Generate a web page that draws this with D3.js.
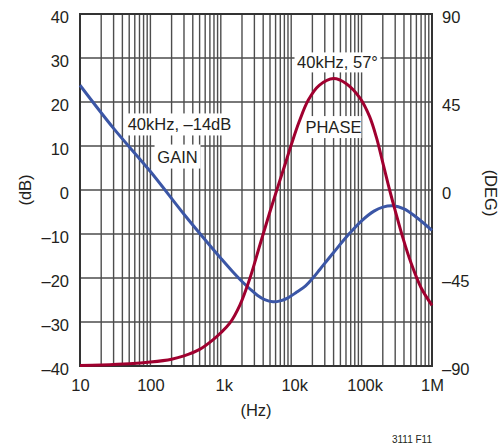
<!DOCTYPE html>
<html><head><meta charset="utf-8">
<script src="https://cdn.jsdelivr.net/npm/d3@7/dist/d3.min.js"></script>
<style>
html,body{margin:0;padding:0;background:#fff;}
svg text{font-family:"Liberation Sans",Arial,sans-serif;fill:#231f20;}
</style></head>
<body><svg id="c" width="503" height="445"></svg>
<script>
// ---- data ----
const freqTicks = [10, 100, 1e3, 1e4, 1e5, 1e6];
const freqTickLabels = ["10", "100", "1k", "10k", "100k", "1M"];
const gainTicks = [40, 30, 20, 10, 0, -10, -20, -30, -40];
const phaseTicks = [90, 45, 0, -45, -90];

const gainFreq = [10, 30, 100, 300, 700, 1000, 1500, 2000, 2600, 3300, 4200, 5500, 7000, 9000, 12000, 16000, 20600, 25700, 40000, 68000, 100000, 150000, 200000, 280000, 400000, 600000, 1000000];
const gainDb   = [23.8, 14, 4.2, -5.5, -12.6, -15.5, -18.7, -20.8, -22.5, -23.9, -24.9, -25.4, -25.2, -24.5, -23.2, -21.8, -19.9, -18, -14.2, -9.8, -7, -4.8, -3.9, -3.6, -4.3, -6.2, -9.2];

const phaseFreq = [10, 20, 50, 100, 200, 300, 500, 780, 1000, 1350, 1860, 2600, 3600, 5000, 6500, 8000, 10000, 13000, 17500, 25000, 40000, 60000, 95000, 130000, 162000, 200000, 250000, 300000, 390000, 500000, 700000, 1000000];
const phaseDeg  = [-89.7, -89.5, -88.9, -88, -86.5, -84.8, -81.5, -76.5, -73, -68, -59, -45, -28, -11, 2, 12, 23, 35, 46, 53.5, 57, 54.5, 47, 37.5, 27, 14, 0, -10.5, -25, -37, -50, -59];

const annotations = [
  {text: "40kHz, –14dB", f: 259, v: 14.9, w: 108, h: 22},
  {text: "GAIN", f: 243, v: 7.6, w: 46, h: 24},
  {text: "40kHz, 57°", f: 45500, v: 29, w: 86, h: 20},
  {text: "PHASE", f: 39800, v: 14.3, w: 56, h: 22}
];

// ---- layout ----
const svg = d3.select("#c");
const L = 80, R = 432, T = 14, B = 366;
const x = d3.scaleLog().domain([10, 1e6]).range([L, R]);
const y = d3.scaleLinear().domain([-40, 40]).range([B, T]);
const yp = d3.scaleLinear().domain([-90, 90]).range([B, T]);

// grid
const vgrid = [];
for (let d = 10; d < 1e6; d *= 10) for (let k = 1; k <= 9; k++) if (d * k > 10 && d * k < 1e6) vgrid.push(d * k);
const g = svg.append("g");
g.selectAll("line.v").data(vgrid).join("line")
  .attr("x1", d => x(d)).attr("x2", d => x(d)).attr("y1", T).attr("y2", B)
  .attr("stroke", "#4d4d4d").attr("stroke-width", 1.4);
g.selectAll("line.h").data(gainTicks.slice(1, -1)).join("line")
  .attr("x1", L).attr("x2", R).attr("y1", d => y(d)).attr("y2", d => y(d))
  .attr("stroke", "#4d4d4d").attr("stroke-width", 1.4);

// label backgrounds
svg.selectAll("rect.bg").data(annotations).join("rect")
  .attr("x", d => x(d.f) - d.w / 2).attr("y", d => y(d.v) - d.h / 2)
  .attr("width", d => d.w).attr("height", d => d.h).attr("fill", "#fff");

// frame
svg.append("rect").attr("x", L).attr("y", T).attr("width", R - L).attr("height", B - T)
  .attr("fill", "none").attr("stroke", "#333").attr("stroke-width", 2);

// curves
const gainData = gainFreq.map((f, i) => [f, gainDb[i]]);
const phaseData = phaseFreq.map((f, i) => [f, phaseDeg[i]]);
const curve = d3.curveCatmullRom.alpha(0.5);
svg.append("path").datum(gainData)
  .attr("d", d3.line().x(d => x(d[0])).y(d => y(d[1])).curve(curve))
  .attr("fill", "none").attr("stroke", "#3b56a6").attr("stroke-width", 3);
svg.append("path").datum(phaseData)
  .attr("d", d3.line().x(d => x(d[0])).y(d => yp(d[1])).curve(curve))
  .attr("fill", "none").attr("stroke", "#a0002f").attr("stroke-width", 3);

// annotations
svg.selectAll("text.ann").data(annotations).join("text")
  .attr("x", d => x(d.f)).attr("y", d => y(d.v)).attr("dy", "0.36em")
  .attr("text-anchor", "middle").attr("font-size", 16.5).text(d => d.text);

// axes
const fs = 16.5;
const ax = svg.append("g").attr("transform", `translate(0,${B})`)
  .call(d3.axisBottom(x).tickValues(freqTicks).tickFormat((d, i) => freqTickLabels[i]).tickSize(0).tickPadding(13));
ax.select(".domain").remove();
ax.selectAll("text").attr("font-size", fs).attr("font-family", null)
  .attr("dx", (d, i) => freqTickLabels[i].endsWith("k") ? 3 : 0);

const ay = svg.append("g").attr("transform", `translate(${L},0)`)
  .call(d3.axisLeft(y).tickValues(gainTicks).tickFormat(d => String(d).replace("-", "–")).tickSize(0).tickPadding(11));
ay.select(".domain").remove();
ay.selectAll("text").attr("font-size", fs).attr("font-family", null).attr("dy", "0.5em");

const ar = svg.append("g").attr("transform", `translate(${R},0)`)
  .call(d3.axisRight(yp).tickValues(phaseTicks).tickFormat(d => String(d).replace("-", "–")).tickSize(0).tickPadding(10));
ar.select(".domain").remove();
ar.selectAll("text").attr("font-size", fs).attr("font-family", null).attr("dy", "0.5em");

// titles
svg.append("text").attr("x", (L + R) / 2).attr("y", 410).attr("dy", "0.36em")
  .attr("text-anchor", "middle").attr("font-size", fs).text("(Hz)");
svg.append("text").attr("transform", `translate(25,${(T + B) / 2}) rotate(-90)`).attr("dy", "0.36em")
  .attr("text-anchor", "middle").attr("font-size", fs).text("(dB)");
svg.append("text").attr("transform", `translate(491,${(T + B) / 2 + 3}) rotate(90)`).attr("dy", "0.36em")
  .attr("text-anchor", "middle").attr("font-size", fs).text("(DEG)");
svg.append("text").attr("x", R).attr("y", 443).attr("text-anchor", "end")
  .attr("font-size", 10).text("3111 F11");
</script></body></html>
